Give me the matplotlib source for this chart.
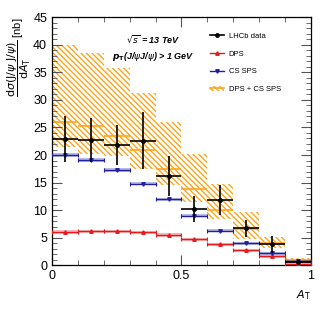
import matplotlib
matplotlib.use("Agg")
import matplotlib.pyplot as plt
import numpy as np
from matplotlib.patches import Patch
from matplotlib.lines import Line2D
from matplotlib.ticker import MultipleLocator

plt.rcParams["font.family"] = ["Liberation Sans", "DejaVu Sans"]
plt.rcParams["hatch.linewidth"] = 1.0

# A_T bins
edges = np.linspace(0.0, 1.0, 11)
centers = 0.5 * (edges[:-1] + edges[1:])

# LHCb data
data = [22.9, 22.8, 21.8, 22.6, 16.2, 10.2, 11.9, 6.7, 3.8, 0.65]
data_err = [4.1, 4.0, 3.6, 5.2, 3.7, 2.4, 2.7, 1.6, 1.5, 0.3]

# predictions
dps = [6.05, 6.15, 6.2, 6.0, 5.5, 4.7, 3.8, 2.75, 1.65, 0.35]
cs_sps = [20.0, 19.1, 17.3, 14.8, 12.0, 9.0, 6.3, 4.0, 2.2, 0.75]
tot = [26.0, 25.2, 23.5, 20.9, 17.4, 13.8, 10.1, 6.6, 4.1, 1.0]
tot_lo = [21.5, 20.2, 19.8, 17.4, 14.5, 11.5, 8.5, 4.8, 3.2, 0.65]
tot_hi = [40.0, 38.4, 35.7, 31.3, 25.9, 20.1, 14.7, 9.6, 5.2, 1.3]

ORANGE = "#ffa41c"
RED = "#e41a1c"
BLUE = "#1f1fa0"
HATCH = "\\" * 6

fig = plt.figure(figsize=(3.27, 3.16), dpi=100)
ax = fig.add_axes([0.159, 0.160, 0.792, 0.786])

# DPS + CS SPS band
lo = np.array(tot_lo)
hi = np.array(tot_hi)
ax.bar(centers, hi - lo, bottom=lo, width=0.1, facecolor="none",
       edgecolor=ORANGE, hatch=HATCH, linewidth=0, zorder=1)
ax.errorbar(centers, tot, xerr=0.05, fmt="none", ecolor=ORANGE,
            elinewidth=1.2, zorder=2)

# DPS and CS SPS
for vals, col, mk in [(dps, RED, "^"), (cs_sps, BLUE, "v")]:
    v = np.array(vals)
    ax.bar(centers, 0.6, bottom=v - 0.3, width=0.1, color=col, alpha=0.3,
           linewidth=0, zorder=2)
    ax.errorbar(centers, v, xerr=0.05, fmt=mk, color=col, ms=2.5,
                elinewidth=1.0, capsize=1.5, capthick=0.8, zorder=3)

# data
ax.errorbar(centers, data, xerr=0.05, yerr=data_err, fmt="o", color="black",
            ms=2.5, elinewidth=1.2, zorder=4)

ax.set_xlim(0, 1)
ax.set_ylim(0, 45)
ax.xaxis.set_minor_locator(MultipleLocator(0.1))
ax.yaxis.set_major_locator(MultipleLocator(5))
ax.yaxis.set_minor_locator(MultipleLocator(1))
ax.set_xticks([0, 0.5, 1])
ax.set_xticklabels(["0", "0.5", "1"])
ax.tick_params(which="both", direction="in", top=True, right=True,
               labelsize=9, color="#555555")
ax.tick_params(which="major", length=7)
ax.tick_params(which="minor", length=3.5)
for s in ax.spines.values():
    s.set_linewidth(0.9)

ax.set_xlabel(r"$A_\mathrm{T}$", fontsize=8, ha="right")
ax.xaxis.set_label_coords(1.0, -0.09)
ax.set_ylabel(r"$\dfrac{\mathrm{d}\sigma(\mathrm{J}/\psi\ \mathrm{J}/\psi)}"
              r"{\mathrm{d}A_\mathrm{T}}$ [nb]", fontsize=8, ha="right")
ax.yaxis.set_label_coords(-0.075, 1.0)

ax.text(0.39, 0.895, r"$\sqrt{s}$ = 13 TeV", transform=ax.transAxes,
        fontsize=6.5, fontweight="bold", fontstyle="italic", ha="center")
ax.text(0.39, 0.83, r"$\boldsymbol{p}_\mathbf{T}$(J/$\psi$J/$\psi$) > 1 GeV",
        transform=ax.transAxes, fontsize=6.5, fontweight="bold",
        fontstyle="italic", ha="center")

h_data = Line2D([], [], color="black", marker="o", ms=2.5, lw=1.2)
h_dps = Line2D([], [], color=RED, marker="^", ms=2.5, lw=1.0)
h_sps = Line2D([], [], color=BLUE, marker="v", ms=2.5, lw=1.0)
h_tot = (Patch(facecolor="none", edgecolor=ORANGE, hatch=HATCH, lw=0),
         Line2D([], [], color=ORANGE, lw=1.2))
ax.legend([h_data, h_dps, h_sps, h_tot],
          ["LHCb data", "DPS", "CS SPS", "DPS + CS SPS"],
          loc="upper left", bbox_to_anchor=(0.6, 0.95), frameon=False,
          fontsize=5.5, handlelength=1.8, handletextpad=0.6,
          labelspacing=1.35, borderaxespad=0)

fig.savefig("out.png", dpi=100)
